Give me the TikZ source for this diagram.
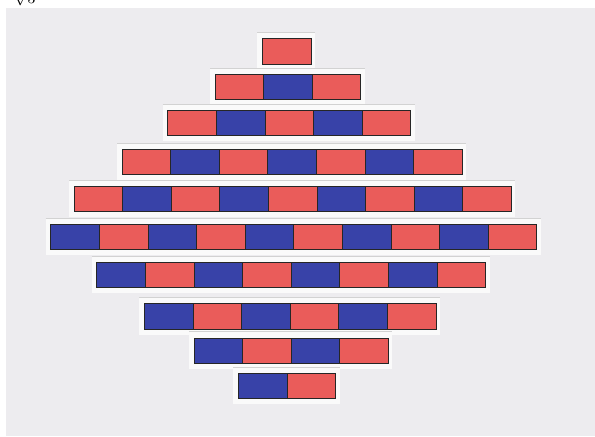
\documentclass[tikz,border=0pt]{standalone}
\usepackage{xcolor}
\usepackage{amsmath}
\usepackage{tikz}
\usetikzlibrary{positioning,calc}

\definecolor{paper}{RGB}{237,236,239}
\definecolor{strip}{RGB}{250,250,250}
\definecolor{cellred}{RGB}{234,92,90}
\definecolor{cellblue}{RGB}{56,66,168}

\begin{document}
\begin{tikzpicture}[
      x=0.75pt, y=-0.75pt,
      cell/.style={draw=black!85, line width=0.6pt, minimum width=36.45pt, minimum height=19.1pt, inner sep=0pt, outer sep=0pt},
      tira/.style={fill=strip},
      borda/.style={draw=gray!35, line width=0.5pt}
  ]
      % Fundo
      \useasboundingbox (0,0) rectangle (595,436);
      \fill[white] (0,0) rectangle (595,436);
      \fill[paper] (6,8) rectangle (595,436);
      \node[anchor=base west, inner sep=0pt, font=\fontsize{13}{15}\selectfont] (marca) at (14,3.5) {$\sqrt{3}$};

      % Linhas: indice / centro y / inicio x / numero de celulas / primeira cor (0 = vermelho, 1 = azul)
      \foreach \r/\yc/\xs/\n/\f in {1/51.5/262.3/1/0, 2/87/215/3/0, 3/123/167.7/5/0, 4/162/122/7/0, 5/199/74/9/0,
                                    6/237/50.7/10/1, 7/275/96.7/8/1, 8/316.5/144.3/6/1, 9/350.7/194/4/1, 10/386/238.3/2/1}{
          \fill[tira] (\xs-5,\yc-19) rectangle (\xs+\n*48.6+4,\yc+18);
          \draw[borda] (\xs-5,\yc-19) -- (\xs+\n*48.6+4,\yc-19);
          \foreach \k in {1,...,\n}{
              \pgfmathtruncatemacro\c{mod(\k+\f,2)}
              \ifnum\c=1 \def\cor{cellred}\else\def\cor{cellblue}\fi
              \node[cell, fill=\cor] (c\r-\k) at (\xs+\k*48.6-24.3,\yc) {};
          }
      }
  \end{tikzpicture}
\end{document}
